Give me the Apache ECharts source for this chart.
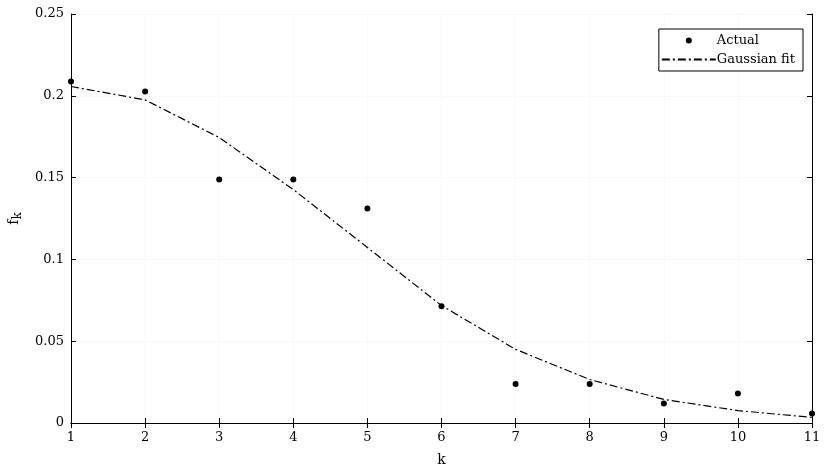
<!DOCTYPE html>
<html>
<head>
<meta charset="utf-8">
<script src="https://cdn.jsdelivr.net/npm/echarts@6/dist/echarts.min.js"></script>
<style>
html, body { margin: 0; padding: 0; background: #fff; }
#chart { width: 829px; height: 469px; }
</style>
</head>
<body>
<div id="chart"></div>
<script>
// data
const kValues = [1, 2, 3, 4, 5, 6, 7, 8, 9, 10, 11]
const actual = [0.2087, 0.2026, 0.1488, 0.1488, 0.1311, 0.0714, 0.0238, 0.0238, 0.0119, 0.0180, 0.0058]
const gaussFit = [0.2057, 0.1975, 0.1745, 0.1427, 0.1073, 0.0718, 0.0450, 0.0266, 0.0144, 0.0076, 0.0034]
const yTicks = [0, 0.05, 0.1, 0.15, 0.2, 0.25]

const font = 'DejaVu Serif'
const chart = echarts.init(document.getElementById('chart'))

const tickStyle = { show: true, inside: true, length: 5, lineStyle: { color: '#000' } }
const lineAxis = { lineStyle: { color: '#000', width: 1 } }
const grid = { show: true, lineStyle: { color: '#f3f3f3', type: 'dotted' } }

const option = {
  animation: false,
  textStyle: { fontFamily: font, color: '#000' },
  grid: { left: 71, right: 17, top: 14, bottom: 46, outerBoundsMode: 'none', containLabel: false },
  legend: {
    orient: 'vertical',
    right: 26,
    top: 29,
    backgroundColor: '#fff',
    borderColor: '#000',
    borderWidth: 1,
    borderRadius: 0,
    padding: [5, 8, 5, 2],
    itemGap: 6,
    itemWidth: 54,
    itemHeight: 6,
    textStyle: { fontFamily: font, fontSize: 13, color: '#000', padding: [0, 0, 0, -4] },
    data: [
      { name: 'Actual', icon: 'circle', itemStyle: { color: '#000', opacity: 1 } },
      { name: 'Gaussian fit', itemStyle: { opacity: 0 } }
    ]
  },
  xAxis: [{
    type: 'value',
    min: 1,
    max: 11,
    interval: 1,
    name: 'k',
    nameLocation: 'middle',
    nameGap: 30,
    nameTextStyle: { fontFamily: font, fontSize: 14, color: '#000' },
    axisLine: lineAxis,
    axisTick: tickStyle,
    axisLabel: { fontFamily: font, fontSize: 13, color: '#000', margin: 8 },
    splitLine: grid
  }, {
    type: 'value',
    position: 'top',
    min: 1,
    max: 11,
    interval: 1,
    axisLine: lineAxis,
    axisTick: tickStyle,
    axisLabel: { show: false },
    splitLine: { show: false }
  }],
  yAxis: [{
    type: 'value',
    min: 0,
    max: yTicks[yTicks.length - 1],
    interval: 0.05,
    name: 'f{sub|k}',
    nameLocation: 'middle',
    nameGap: 47,
    nameRotate: 90,
    nameTextStyle: {
      fontFamily: font, fontSize: 14, color: '#000',
      rich: { sub: { fontFamily: font, fontSize: 12, color: '#000', padding: [8, 0, 0, 0] } }
    },
    axisLine: { show: true, ...lineAxis },
    axisTick: tickStyle,
    axisLabel: { fontFamily: font, fontSize: 13, color: '#000', margin: 7 },
    splitLine: grid
  }, {
    type: 'value',
    position: 'right',
    min: 0,
    max: yTicks[yTicks.length - 1],
    interval: 0.05,
    axisLine: { show: true, ...lineAxis },
    axisTick: tickStyle,
    axisLabel: { show: false },
    splitLine: { show: false }
  }],
  series: [{
    name: 'Actual',
    type: 'scatter',
    symbol: 'circle',
    symbolSize: 6,
    itemStyle: { color: '#000', opacity: 1 },
    data: kValues.map((k, i) => [k, actual[i]]),
    z: 3
  }, {
    name: 'Gaussian fit',
    type: 'line',
    showSymbol: false,
    symbol: 'none',
    color: '#000',
    lineStyle: { color: '#000', width: 1.2, type: [8, 3, 2, 3] },
    data: kValues.map((k, i) => [k, gaussFit[i]]),
    z: 2
  }]
}

chart.setOption(option)
</script>
</body>
</html>
